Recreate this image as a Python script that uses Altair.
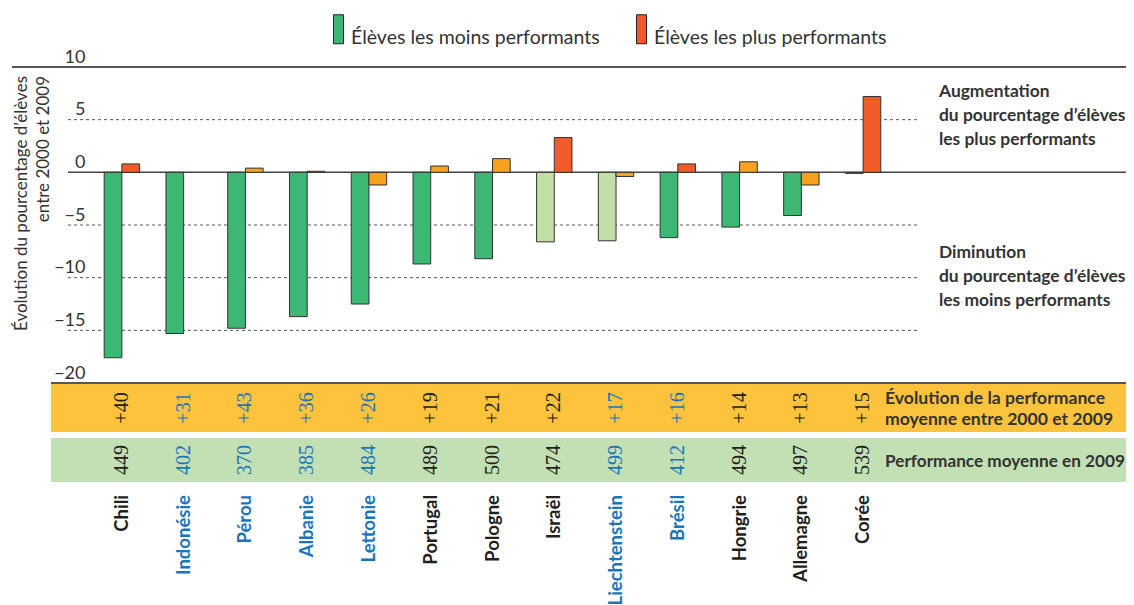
import altair as alt
import pandas as pd

# ---------------- data ----------------
countries = ["Chili", "Indonésie", "Pérou", "Albanie", "Lettonie", "Portugal", "Pologne",
             "Israël", "Liechtenstein", "Brésil", "Hongrie", "Allemagne", "Corée"]
low_change = [-17.6, -15.3, -14.8, -13.7, -12.5, -8.7, -8.2, -6.6, -6.5, -6.2, -5.2, -4.1, -0.1]
low_significant = [True, True, True, True, True, True, True, False, False, True, True, True, True]
top_change = [0.8, None, 0.4, 0.1, -1.2, 0.6, 1.3, 3.3, -0.4, 0.8, 1.0, -1.2, 7.2]
top_significant = [True, False, False, False, False, False, False, True, False, True, False, False, True]
perf_change = [40, 31, 43, 36, 26, 19, 21, 22, 17, 16, 14, 13, 15]
perf_2009 = [449, 402, 370, 385, 484, 489, 500, 474, 499, 412, 494, 497, 539]
partner = [False, True, True, True, True, False, False, False, True, True, False, False, False]
grid_values = [5, -5, -10, -15]
y_ticks = [-20, -15, -10, -5, 0, 5, 10]

LOW = "Élèves les moins performants"
TOP = "Élèves les plus performants"
LOW_NS = "Élèves les moins performants (non significatif)"
TOP_NS = "Élèves les plus performants (non significatif)"

rows = []
for i, c in enumerate(countries):
    rows.append({"pays": c, "serie": "a", "valeur": low_change[i],
                 "categorie": LOW if low_significant[i] else LOW_NS})
    rows.append({"pays": c, "serie": "b", "valeur": top_change[i],
                 "categorie": TOP if top_significant[i] else TOP_NS})
bar_df = pd.DataFrame(rows)

info_df = pd.DataFrame({"pays": countries, "evolution": perf_change,
                        "moyenne": perf_2009, "partenaire": partner})

# ---------------- style ----------------
FONT = "Lato"
TXT = "#333333"
BLUE = "#1b75bc"
BLACK = "#231f20"
OX, OY = 91, 67          # page position of plot origin
W, H = 803, 316
SVG_W, SVG_H = 1118, 597

def px(x):
    return x - OX

def py(y):
    return y - OY

one = pd.DataFrame({"k": [0]})
xenc = alt.X("pays:N", sort=countries, axis=None,
             scale=alt.Scale(paddingInner=0.427, paddingOuter=0.2135))
text_color = alt.condition("datum.partenaire", alt.value(BLUE), alt.value(BLACK))

band_orange = alt.Chart(one).mark_rect(color="#fdc33c").encode(
    x=alt.value(px(51)), x2=alt.value(px(1200)), y=alt.value(py(383)), y2=alt.value(py(432)))
band_green = alt.Chart(one).mark_rect(color="#c2e0b4").encode(
    x=alt.value(px(51)), x2=alt.value(px(1200)), y=alt.value(py(438)), y2=alt.value(py(482)))

grid = alt.Chart(pd.DataFrame({"valeur": grid_values})).mark_rule(
    color="#555555", strokeWidth=1, strokeDash=[3, 3]).encode(
    y="valeur:Q", x=alt.value(px(68)), x2=alt.value(px(920)))
zero = alt.Chart(pd.DataFrame({"valeur": [0]})).mark_rule(
    color="#444444", strokeWidth=1.5).encode(
    y="valeur:Q", x=alt.value(px(68)), x2=alt.value(px(1200)))
top_line = alt.Chart(pd.DataFrame({"valeur": [10]})).mark_rule(
    color="#555555", strokeWidth=2).encode(
    y="valeur:Q", x=alt.value(px(12)), x2=alt.value(px(1200)))
bottom_line = alt.Chart(pd.DataFrame({"valeur": [-20]})).mark_rule(
    color="#555555", strokeWidth=2).encode(
    y="valeur:Q", x=alt.value(px(51)), x2=alt.value(px(1200)))

bars = alt.Chart(bar_df).mark_bar(stroke="#333333", strokeWidth=1).encode(
    x=xenc,
    xOffset=alt.XOffset("serie:N", sort=["a", "b"],
                        scale=alt.Scale(paddingInner=0, paddingOuter=0)),
    y=alt.Y("valeur:Q", scale=alt.Scale(domain=[-20, 10], nice=False),
            axis=alt.Axis(values=y_ticks, title=None, domain=False, ticks=False, tickSize=0,
                          grid=False, labelPadding=6, labelOffset=-5,
                          labelBaseline="alphabetic", labelAlign="right",
                          labelFont=FONT, labelFontSize=18, labelColor=TXT)),
    color=alt.Color("categorie:N",
                    scale=alt.Scale(domain=[LOW, LOW_NS, TOP, TOP_NS],
                                    range=["#3cb874", "#c1dfa6", "#f15a29", "#f8a11e"]),
                    legend=alt.Legend(values=[LOW, TOP], orient="none",
                                      legendX=px(314), legendY=py(14),
                                      direction="horizontal", title=None,
                                      symbolType="M0.31,-1H1V1H0.31Z",
                                      symbolSize=841, symbolStrokeColor="#222222",
                                      symbolStrokeWidth=1, symbolOpacity=1,
                                      labelFont=FONT, labelFontSize=19.5, labelColor=TXT,
                                      labelOffset=7, columnPadding=17, padding=0,
                                      labelBaseline="top", labelLimit=400)),
)

y_title = alt.Chart(one).mark_text(
    angle=270, align="right", baseline="alphabetic", lineBreak="\n", lineHeight=22,
    font=FONT, fontSize=17, color=TXT).encode(
    x=alt.value(px(27)), y=alt.value(py(76)),
    text=alt.value("Évolution du pourcentage d’élèves\nentre 2000 et 2009"))

note_up = alt.Chart(one).mark_text(
    align="left", baseline="alphabetic", lineBreak="\n", lineHeight=24,
    font=FONT, fontSize=17.4, fontWeight="bold", color=TXT).encode(
    x=alt.value(px(939)), y=alt.value(py(97)),
    text=alt.value("Augmentation\ndu pourcentage d’élèves\nles plus performants"))
note_down = alt.Chart(one).mark_text(
    align="left", baseline="alphabetic", lineBreak="\n", lineHeight=24,
    font=FONT, fontSize=17.4, fontWeight="bold", color=TXT).encode(
    x=alt.value(px(939)), y=alt.value(py(258)),
    text=alt.value("Diminution\ndu pourcentage d’élèves\nles moins performants"))

band_lab1 = alt.Chart(one).mark_text(
    align="left", baseline="alphabetic", lineBreak="\n", lineHeight=21,
    font=FONT, fontSize=17.6, fontWeight="bold", color=TXT).encode(
    x=alt.value(px(885)), y=alt.value(py(404)),
    text=alt.value("Évolution de la performance\nmoyenne entre 2000 et 2009"))
band_lab2 = alt.Chart(one).mark_text(
    align="left", baseline="alphabetic",
    font=FONT, fontSize=17.2, fontWeight="bold", color=TXT).encode(
    x=alt.value(px(885)), y=alt.value(py(467)),
    text=alt.value("Performance moyenne en 2009"))

chg_txt = alt.Chart(info_df).mark_text(
    angle=270, align="center", baseline="middle", font="Liberation Serif", fontSize=20).encode(
    x=xenc, y=alt.value(py(408)), text=alt.Text("evolution:Q", format="+d"), color=text_color)
avg_txt = alt.Chart(info_df).mark_text(
    angle=270, align="center", baseline="middle", font="Liberation Serif", fontSize=20).encode(
    x=xenc, y=alt.value(py(460)), text=alt.Text("moyenne:Q"), color=text_color)
names = alt.Chart(info_df).mark_text(
    angle=270, align="right", baseline="middle", font=FONT, fontSize=18.5,
    fontWeight="bold").encode(
    x=xenc, y=alt.value(py(495)), text="pays:N", color=text_color)

chart = alt.layer(
    band_orange, band_green, grid, zero, top_line, bottom_line, bars,
    y_title, note_up, note_down, band_lab1, band_lab2, chg_txt, avg_txt, names
).properties(
    width=W, height=H,
    background="white",
    autosize=alt.AutoSizeParams(type="none"),
    padding={"left": OX - 8, "top": OY - 8, "right": SVG_W - (OX - 8) - W,
             "bottom": SVG_H - (OY - 8) - H},
).configure_view(stroke=None)

chart.save("out.html", embed_options={"renderer": "svg", "actions": False})
